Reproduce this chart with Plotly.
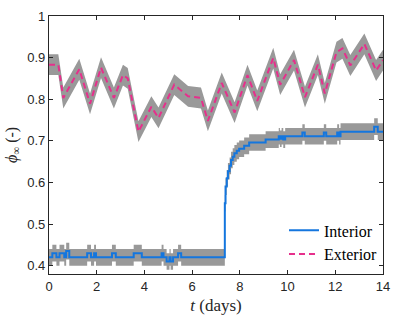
import numpy as np
import plotly.graph_objects as go

# exterior (dashed) curve
ext_t = [0, 0.39, 0.6, 1.27, 1.72, 2.18, 2.72, 3.1, 3.3, 3.75, 4.29, 4.59, 5.25, 5.83, 6.37,
         6.66, 7.24, 7.78, 8.32, 8.73, 9.4, 9.69, 10.27, 10.73, 11.27, 11.56, 12.05, 12.3,
         12.63, 13.22, 13.71, 14]
ext_phi = [0.883, 0.883, 0.803, 0.872, 0.789, 0.876, 0.803, 0.858, 0.85, 0.722, 0.782, 0.755,
           0.835, 0.807, 0.803, 0.748, 0.839, 0.768, 0.858, 0.796, 0.899, 0.835, 0.894, 0.805,
           0.883, 0.814, 0.913, 0.922, 0.881, 0.933, 0.869, 0.894]
ext_err = 0.025

# interior (solid) curve, stepped
int_t = [0, 0.14, 0.31, 0.44, 0.64, 0.72, 0.85, 1.6, 1.76, 1.89, 1.97, 2.64, 2.8, 3.55, 3.89,
         4.72, 4.8, 4.93, 5.05, 5.1, 5.2, 5.41, 5.54, 7.35, 7.37, 7.4, 7.45, 7.5, 7.57, 7.63,
         7.7, 7.77, 7.87, 7.97, 8.18, 8.39, 9.08, 9.63, 9.68, 9.75, 9.82, 9.9, 10.62, 10.72,
         11.52, 11.62, 12.08, 12.16, 12.22, 13.63, 13.78, 14]
int_phi = [0.42, 0.43, 0.42, 0.43, 0.42, 0.435, 0.42, 0.43, 0.42, 0.43, 0.42, 0.43, 0.42, 0.43,
           0.42, 0.43, 0.42, 0.41, 0.42, 0.41, 0.42, 0.43, 0.42, 0.42, 0.55, 0.59, 0.61, 0.627,
           0.64, 0.654, 0.662, 0.67, 0.676, 0.681, 0.688, 0.696, 0.703, 0.711, 0.705, 0.711,
           0.703, 0.711, 0.72, 0.711, 0.72, 0.711, 0.72, 0.711, 0.722, 0.734, 0.722, 0.722]
int_err = 0.02

x_ticks = [0, 2, 4, 6, 8, 10, 12, 14]
y_ticks = [0.4, 0.5, 0.6, 0.7, 0.8, 0.9, 1]

gray = 'rgb(153,153,153)'
blue = 'rgb(20,118,222)'
pink = 'rgb(230,48,140)'

fig = go.Figure()

e = np.array(ext_phi)
fig.add_trace(go.Scatter(x=ext_t, y=e + ext_err, mode='lines', line=dict(width=0, color=gray),
                         showlegend=False, hoverinfo='skip'))
fig.add_trace(go.Scatter(x=ext_t, y=e - ext_err, mode='lines', line=dict(width=0, color=gray),
                         fill='tonexty', fillcolor=gray, showlegend=False, hoverinfo='skip'))

i = np.array(int_phi)
fig.add_trace(go.Scatter(x=int_t, y=i + int_err, mode='lines', line=dict(width=0, color=gray, shape='hv'),
                         showlegend=False, hoverinfo='skip'))
fig.add_trace(go.Scatter(x=int_t, y=i - int_err, mode='lines', line=dict(width=0, color=gray, shape='hv'),
                         fill='tonexty', fillcolor=gray, showlegend=False, hoverinfo='skip'))

fig.add_trace(go.Scatter(x=int_t, y=int_phi, mode='lines', name='Interior',
                         line=dict(color=blue, width=2, shape='hv')))
fig.add_trace(go.Scatter(x=ext_t, y=ext_phi, mode='lines', name='Exterior',
                         line=dict(color=pink, width=2, dash='6px,4px')))

axis_common = dict(showline=True, linecolor='#262626', linewidth=1.2, mirror='ticks',
                   ticks='inside', ticklen=4, tickcolor='#262626', showgrid=False, zeroline=False,
                   tickfont=dict(family='Liberation Sans, Arial', size=13, color='#262626'))

serif = 'Liberation Serif, DejaVu Serif'

fig.update_layout(
    width=399, height=321,
    margin=dict(l=49, r=12, t=9, b=43),
    plot_bgcolor='white', paper_bgcolor='white',
    xaxis=dict(range=[0, 14], tickvals=x_ticks, ticktext=[str(v) for v in x_ticks],
               title=dict(text='<i>t</i> (days)', standoff=6,
                          font=dict(family=serif, size=17, color='#262626')),
               **axis_common),
    yaxis=dict(range=[0.38, 1], tickvals=y_ticks, ticktext=['0.4', '0.5', '0.6', '0.7', '0.8', '0.9', '1'],
               title=dict(text='<i>ϕ</i><sub>∞</sub> (-)', standoff=5,
                          font=dict(family=serif, size=16, color='#262626')),
               **axis_common),
    legend=dict(x=1.0, y=0.01, xanchor='right', yanchor='bottom', bgcolor='rgba(255,255,255,0)',
                font=dict(family=serif, size=16, color='black'),
                traceorder='normal', tracegroupgap=0, itemwidth=30),
)

fig.write_html("out.html", config={'displayModeBar': False},
               post_script="document.body.style.margin='0';")
